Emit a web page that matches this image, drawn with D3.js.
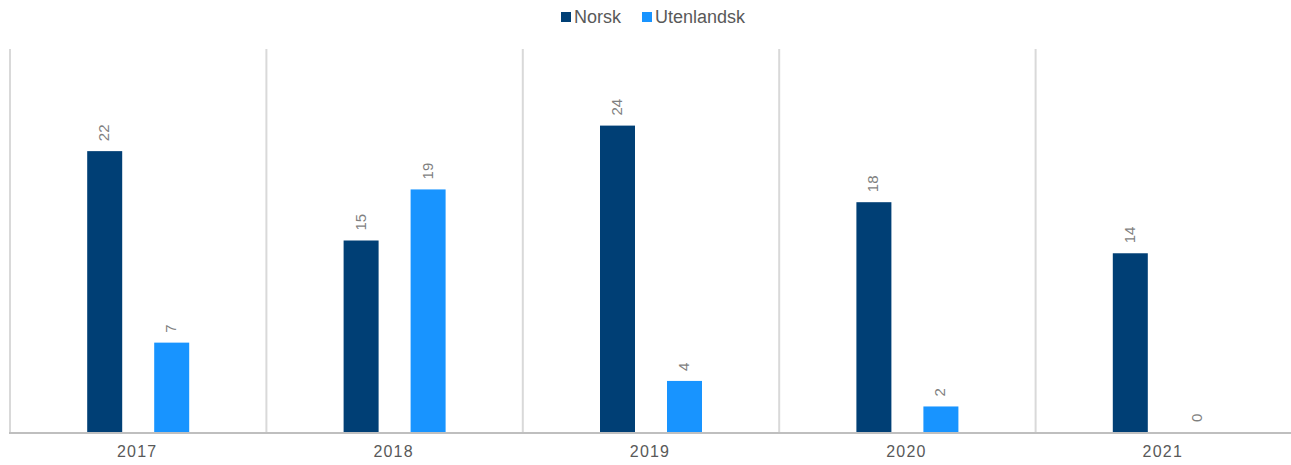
<!DOCTYPE html>
<html><head><meta charset="utf-8">
<script src="https://cdn.jsdelivr.net/npm/d3@7"></script>
<style>body{margin:0;background:#fff;font-family:Arial,"Liberation Sans",sans-serif;}</style>
</head><body><svg id="c" width="1291" height="465"></svg>
<script>
const categories = ["2017","2018","2019","2020","2021"];
const seriesNames = ["Norsk","Utenlandsk"];
const norsk = [22,15,24,18,14];
const utenlandsk = [7,19,4,2,0];
const colors = ["#003f75","#1894ff"];

(function(){
const svg = d3.select("#c");
const pLeft = 9, pRight = 1291, pTop = 49, pBottom = 432;
const x = d3.scaleBand().domain(categories).range([pLeft,pRight]).padding(0);
const y = d3.scaleLinear().domain([0,30]).range([pBottom,pTop]);

// vertical separators
const bounds = categories.map(c=>x(c));
svg.selectAll("line.sep").data(bounds).enter().append("line")
  .attr("x1",d=>d+1).attr("x2",d=>d+1).attr("y1",pTop).attr("y2",pBottom)
  .attr("stroke","#d9d9d9").attr("stroke-width",2);

const data = [];
categories.forEach((c,i)=>{
  data.push({c,s:seriesNames[0],v:norsk[i],col:colors[0]});
  data.push({c,s:seriesNames[1],v:utenlandsk[i],col:colors[1]});
});
const bw = 35;
const cx = d => x(d.c) + x.bandwidth()/2 + 1 + (d.s===seriesNames[0]?-33.5:33.5);
svg.selectAll("rect.bar").data(data).enter().append("rect")
  .attr("x",d=>cx(d)-bw/2).attr("width",bw)
  .attr("y",d=>y(d.v)).attr("height",d=>pBottom-y(d.v))
  .attr("fill",d=>d.col);

svg.selectAll("text.lbl").data(data).enter().append("text")
  .attr("transform",d=>`translate(${cx(d)+0.5},${y(d.v)-10}) rotate(-90)`)
  .attr("dominant-baseline","middle").attr("text-anchor","start")
  .attr("fill","#7f7f7f").attr("font-size",15).text(d=>d.v);

// baseline
svg.append("line").attr("x1",pLeft).attr("x2",pRight).attr("y1",pBottom+1).attr("y2",pBottom+1)
  .attr("stroke","#bfbfbf").attr("stroke-width",2);

const xa = svg.append("g").attr("transform",`translate(0,${pBottom})`)
  .call(d3.axisBottom(x).tickSize(0).tickPadding(14));
xa.select(".domain").remove();
xa.selectAll("text").attr("font-size",16).attr("fill","#595959").attr("font-family","Arial,'Liberation Sans',sans-serif").attr("letter-spacing","1.2");

// legend
const leg = [{n:seriesNames[0],x:561,c:colors[0]},{n:seriesNames[1],x:642,c:colors[1]}];
const lg = svg.selectAll("g.leg").data(leg).enter().append("g").attr("transform",d=>`translate(${d.x},12)`);
lg.append("rect").attr("width",10).attr("height",10).attr("fill",d=>d.c);
lg.append("text").attr("x",13).attr("y",11).attr("font-size",18).attr("fill","#595959").text(d=>d.n);
})();
</script></body></html>
